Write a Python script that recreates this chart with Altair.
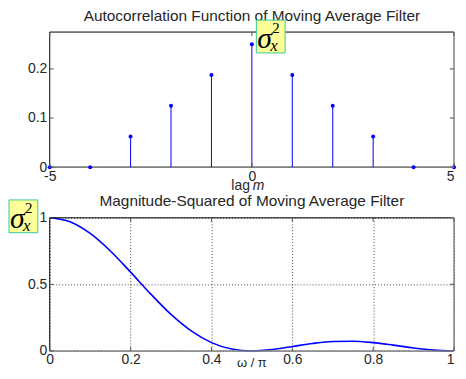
import altair as alt
import pandas as pd

# ---- data ----
lags = [-5, -4, -3, -2, -1, 0, 1, 2, 3, 4, 5]
acf = [0, 0, 0.0625, 0.125, 0.1875, 0.25, 0.1875, 0.125, 0.0625, 0, 0]

freq = [0, 0.05, 0.1, 0.15, 0.2, 0.25, 0.3, 0.35, 0.4, 0.45, 0.5,
        0.55, 0.6, 0.65, 0.7, 0.75, 0.8, 0.85, 0.9, 0.95, 1.0]
mag = [1.0, 0.970, 0.8825, 0.751, 0.592, 0.427, 0.274, 0.150, 0.0625, 0.0142, 0.0,
       0.0103, 0.0330, 0.0563, 0.0712, 0.0732, 0.0625, 0.0433, 0.0221, 0.0060, 0.0]

acf_xticks = [-5, 0, 5]
acf_yticks = [0, 0.1, 0.2]
mag_xticks = [0, 0.2, 0.4, 0.6, 0.8, 1]
mag_yticks = [0, 0.5, 1]

title_top = "Autocorrelation Function of Moving Average Filter"
title_bot = "Magnitude-Squared of Moving Average Filter"

# ---- styling ----
W = 407
H1 = 136
H2 = 134
EXT = 41
BLUE = "#0000ff"
FONT = "Liberation Sans"
TXT = "#262626"
TFS = 15.5   # title font size
LFS = 14     # label font size

one = alt.Data(values=[{"k": 0}])
df_acf = pd.DataFrame({"lag": lags, "acf": acf})
df_mag = pd.DataFrame({"w": freq, "mag": mag})


def frame(h):
    top = alt.Chart(one).mark_rule(color="black", strokeWidth=1).encode(
        x=alt.value(0), x2=alt.value(W), y=alt.value(0))
    left = alt.Chart(one).mark_rule(color="black", strokeWidth=1).encode(
        x=alt.value(0), y=alt.value(0), y2=alt.value(h))
    right = alt.Chart(one).mark_rule(color="#808080", strokeWidth=1.5).encode(
        x=alt.value(W), y=alt.value(0), y2=alt.value(h))
    bottom = alt.Chart(one).mark_rule(color="#808080", strokeWidth=1.5).encode(
        x=alt.value(0), x2=alt.value(W), y=alt.value(h))
    return [top, left, right, bottom]


def ticks(xvals, yvals, xname, yname, xscale, yscale, h):
    dx = pd.DataFrame({xname: xvals})
    dy = pd.DataFrame({yname: yvals})
    xb = alt.Chart(dx).mark_rule(color="#555", strokeWidth=1).encode(
        x=alt.X(f"{xname}:Q", scale=xscale), y=alt.value(h), y2=alt.value(h - 4))
    xt = alt.Chart(dx).mark_rule(color="#555", strokeWidth=1).encode(
        x=alt.X(f"{xname}:Q", scale=xscale), y=alt.value(0), y2=alt.value(4))
    yl = alt.Chart(dy).mark_rule(color="#555", strokeWidth=1).encode(
        y=alt.Y(f"{yname}:Q", scale=yscale), x=alt.value(0), x2=alt.value(4))
    yr = alt.Chart(dy).mark_rule(color="#777", strokeWidth=1.5).encode(
        y=alt.Y(f"{yname}:Q", scale=yscale), x=alt.value(W - 4), x2=alt.value(W))
    return [xb, xt, yl, yr]


def sigma_box(bx, by):
    rect = alt.Chart(one).mark_rect(fill="#ffff99", stroke="#33cc99", strokeWidth=1).encode(
        x=alt.value(bx), x2=alt.value(bx + 29), y=alt.value(by), y2=alt.value(by + 33))
    sig = alt.Chart(one).mark_text(align="left", baseline="alphabetic", font="Liberation Serif",
                                   fontStyle="italic", fontSize=30, color="black").encode(
        x=alt.value(bx + 1), y=alt.value(by + 28), text=alt.value("σ"))
    two = alt.Chart(one).mark_text(align="left", baseline="alphabetic", font="Liberation Serif",
                                   fontSize=15, color="black").encode(
        x=alt.value(bx + 16), y=alt.value(by + 13), text=alt.value("2"))
    xx = alt.Chart(one).mark_text(align="left", baseline="alphabetic", font="Liberation Serif",
                                  fontStyle="italic", fontSize=17, color="black").encode(
        x=alt.value(bx + 14), y=alt.value(by + 31), text=alt.value("x"))
    return [rect, sig, two, xx]


def text_at(x, y, s, align="center", size=TFS, style="normal"):
    return alt.Chart(one).mark_text(align=align, baseline="alphabetic", font=FONT,
                                    fontSize=size, fontStyle=style, color=TXT).encode(
        x=alt.value(x), y=alt.value(y), text=alt.value(s))


def last_right(v):
    return {"condition": {"test": f"datum.value == {v}", "value": "right"}, "value": "center"}


axis_common = dict(labelFont=FONT, labelColor=TXT, labelFontSize=LFS, ticks=False,
                   domain=False, format="~g")

# ---- top panel ----
xs1 = alt.Scale(domain=[-5, 5], nice=False, zero=False)
ys1 = alt.Scale(domain=[0, 0.275], nice=False)

x_ax1 = alt.Axis(values=acf_xticks, title=None, grid=False, labelPadding=2,
                 labelAlign=last_right(5),
                 labelExpr="replace(datum.label, '\u2212', '-')", **axis_common)
y_ax1 = alt.Axis(values=acf_yticks, title=None, grid=False, labelPadding=3,
                 minExtent=EXT, maxExtent=EXT, **axis_common)

base_line = alt.Chart(one).mark_rule(color="#808080", strokeWidth=1.5).encode(
    x=alt.datum(-5, scale=xs1), x2=alt.datum(5), y=alt.datum(0, scale=ys1))
stems = alt.Chart(df_acf).mark_rule(color=BLUE, strokeWidth=1).encode(
    x=alt.X("lag:Q", scale=xs1, axis=x_ax1),
    y=alt.Y("acf:Q", scale=ys1, axis=y_ax1),
    y2=alt.datum(0))
dots = alt.Chart(df_acf).mark_circle(color=BLUE, size=16, opacity=1).encode(
    x=alt.X("lag:Q", scale=xs1), y=alt.Y("acf:Q", scale=ys1))

top = alt.layer(
    *frame(H1), base_line, stems, dots,
    *ticks(acf_xticks, acf_yticks, "tx", "ty", xs1, ys1, H1),
    text_at(W / 2 - 2, H1 + 23, "lag", align="right", size=LFS),
    text_at(W / 2 + 1, H1 + 23, "m", align="left", size=LFS, style="italic"),
    text_at(W / 2, -11, title_top),
    *sigma_box(W / 2 + 4.5, -12),
).properties(width=W, height=H1)

# ---- bottom panel ----
xs2 = alt.Scale(domain=[0, 1], nice=False)
ys2 = alt.Scale(domain=[0, 1], nice=False)

x_ax2 = alt.Axis(values=mag_xticks, title=None, grid=True, gridDash=[1, 2],
                 gridColor="black", gridOpacity=0.7, labelPadding=2,
                 labelAlign=last_right(1), **axis_common)
y_ax2 = alt.Axis(values=mag_yticks, title=None, grid=True, gridDash=[1, 2],
                 gridColor="black", gridOpacity=0.7, labelPadding=3,
                 minExtent=EXT, maxExtent=EXT, **axis_common)

curve = alt.Chart(df_mag).mark_line(color=BLUE, strokeWidth=1.6, interpolate="monotone").encode(
    x=alt.X("w:Q", scale=xs2, axis=x_ax2),
    y=alt.Y("mag:Q", scale=ys2, axis=y_ax2))

bot = alt.layer(
    curve, *frame(H2),
    *ticks(mag_xticks, mag_yticks, "bx", "by", xs2, ys2, H2),
    text_at(W / 2, -12, title_bot),
    text_at(W / 2, H2 + 16, "ω / π", size=13),
    *sigma_box(-EXT, -18),
).properties(width=W, height=H2)

chart = alt.vconcat(top, bot, spacing=1).properties(
    padding={"left": 0, "top": 0, "right": 0, "bottom": 0}
).configure_view(stroke=None).resolve_scale(x="independent", y="independent")

chart.save("out.html", embed_options={"renderer": "svg", "actions": False})
